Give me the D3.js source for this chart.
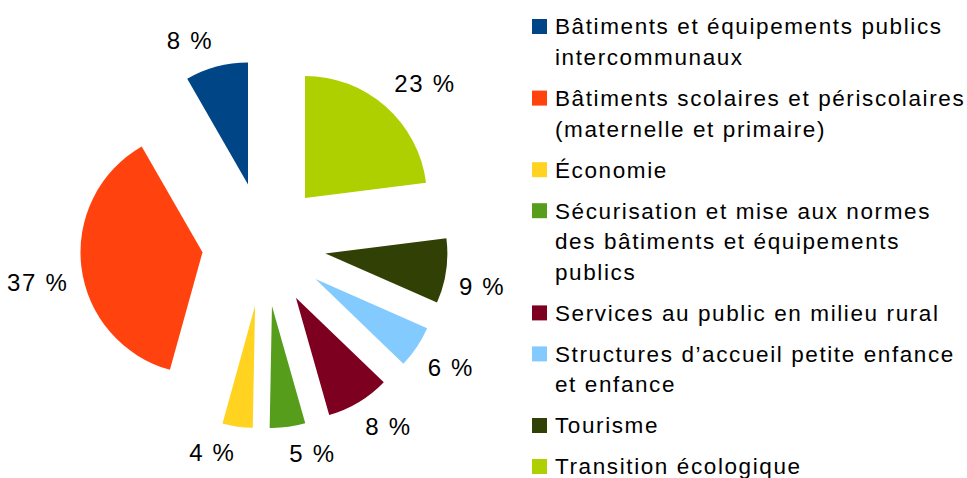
<!DOCTYPE html>
<html>
<head>
<meta charset="utf-8">
<script src="https://cdn.jsdelivr.net/npm/d3@7"></script>
<style>
  body { margin: 0; background: #fff; }
  svg { display: block; font-family: "Liberation Sans", Arial, sans-serif; }
</style>
</head>
<body>
<svg id="chart" width="967" height="478"></svg>
<script>
// categories (legend order, pie runs counterclockwise from 12 o'clock)
var categories = [
  "Bâtiments et équipements publics\nintercommunaux",
  "Bâtiments scolaires et périscolaires\n(maternelle et primaire)",
  "Économie",
  "Sécurisation et mise aux normes\ndes bâtiments et équipements\npublics",
  "Services au public en milieu rural",
  "Structures d’accueil petite enfance\net enfance",
  "Tourisme",
  "Transition écologique"
];
var values = [8.3, 37.4, 4.0, 4.7, 8.4, 5.6, 8.6, 23.0];
var colors = ["#004586", "#ff420e", "#ffd320", "#579d1c", "#7e0021", "#83caff", "#314004", "#aecf00"];

var cx = 264, cy = 244.5;
var radius = 122;
var explode = 62;
var labelR = 197;
var labelSize = 24;

var svg = d3.select("#chart");
var total = d3.sum(values);

var items = values.map(function(v, i) {
  return {name: categories[i], val: v, color: colors[i]};
});

var pie = d3.pie()
  .sort(null)
  .value(function(d) { return d.val; })
  .startAngle(0)
  .endAngle(-2 * Math.PI);

var arc = d3.arc().innerRadius(0).outerRadius(radius);

var arcs = pie(items);

var g = svg.append("g").attr("transform", "translate(" + cx + "," + cy + ")");

function midDir(a) {
  var m = (a.startAngle + a.endAngle) / 2;
  return [Math.sin(m), -Math.cos(m)];
}

g.selectAll(".slice")
  .data(arcs)
  .enter().append("path")
    .attr("class", "slice")
    .attr("d", arc)
    .attr("fill", function(d) { return d.data.color; })
    .attr("transform", function(d) {
      var u = midDir(d);
      return "translate(" + (u[0] * explode) + "," + (u[1] * explode) + ")";
    });

// percent labels, box corner pinned on the label radius
g.selectAll(".plabel")
  .data(arcs)
  .enter().append("text")
    .attr("class", "plabel")
    .attr("font-size", labelSize)
    .attr("letter-spacing", "1.7px")
    .attr("fill", "#000")
    .attr("text-anchor", function(d) { return midDir(d)[0] >= 0 ? "start" : "end"; })
    .attr("x", function(d) { return midDir(d)[0] * labelR; })
    .attr("y", function(d) {
      var u = midDir(d);
      var py = u[1] * labelR;
      return u[1] > 0 ? py + labelSize * 0.905 : py - labelSize * 0.212;
    })
    .text(function(d) { return Math.round(d.data.val / total * 100) + " %"; });

// legend
var legX = 532, textX = 555;
var lineStep = 30.6, itemGap = 41;
var legSize = 22.5;
var y = 34.3;
var legend = svg.append("g").attr("class", "legend");

items.forEach(function(d, i) {
  var lines = d.name.split("\n");
  legend.append("rect")
    .attr("x", legX).attr("y", y - 15.3)
    .attr("width", 15).attr("height", 15)
    .attr("fill", d.color);
  var t = legend.append("text")
    .attr("font-size", legSize)
    .attr("letter-spacing", "1.6px")
    .attr("fill", "#000");
  lines.forEach(function(l, j) {
    t.append("tspan").attr("x", textX).attr("y", y + j * lineStep).text(l);
  });
  y += (lines.length - 1) * lineStep + itemGap;
});
</script>
</body>
</html>
